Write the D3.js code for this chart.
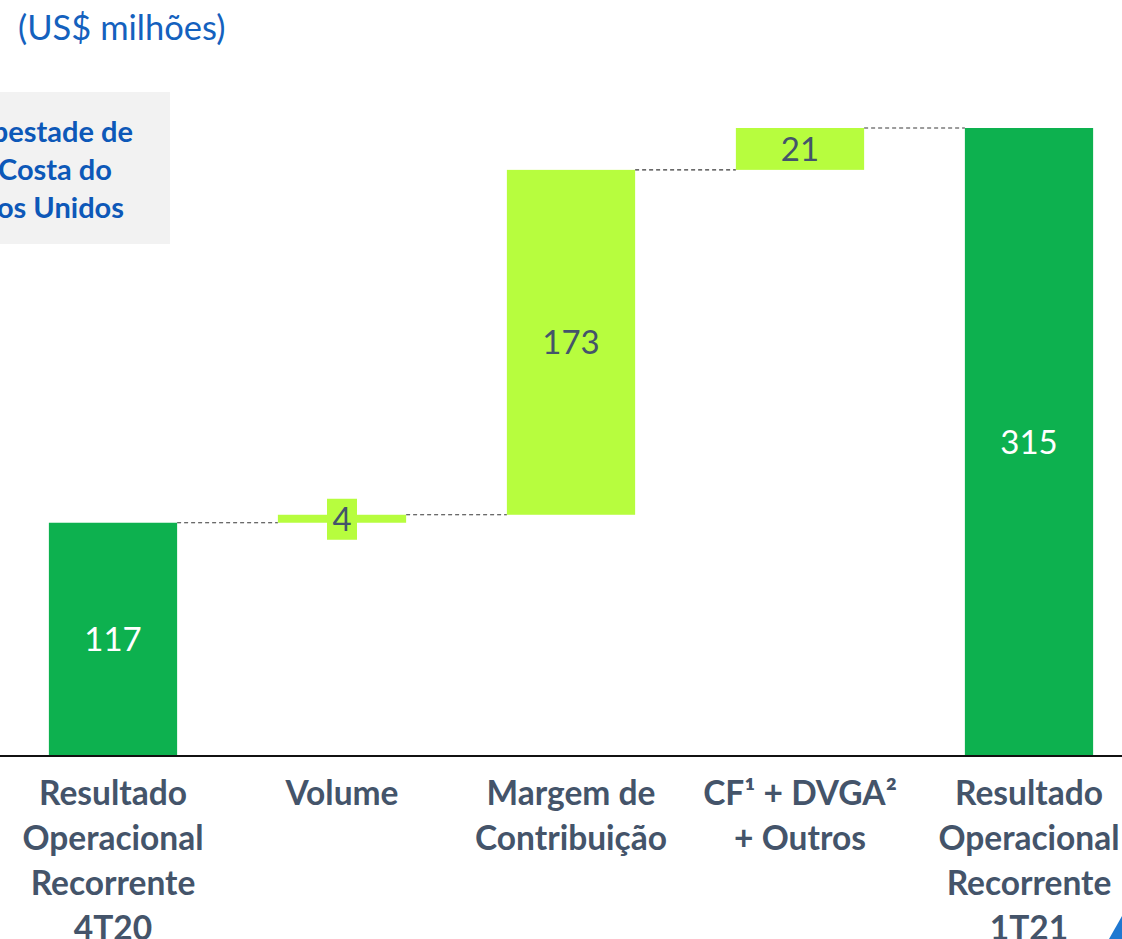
<!DOCTYPE html>
<html>
<head>
<meta charset="utf-8">
<script src="https://cdn.jsdelivr.net/npm/d3@7"></script>
<style>
  body { margin: 0; background: #fff; }
  svg { display: block; }
</style>
</head>
<body>
<svg width="1122" height="939"></svg>
<script>
// waterfall data
var categories = ["Resultado Operacional Recorrente 4T20", "Volume", "Margem de Contribuição", "CF¹ + DVGA² + Outros", "Resultado Operacional Recorrente 1T21"];
var catLines = [
    ["Resultado", "Operacional", "Recorrente", "4T20"],
    ["Volume"],
    ["Margem de", "Contribuição"],
    ["CF¹ + DVGA²", "+ Outros"],
    ["Resultado", "Operacional", "Recorrente", "1T21"]
];
var values = [117, 4, 173, 21, 315];
var kinds = ["total", "delta", "delta", "delta", "total"];
var boxLines = ["pestade de", "Costa do", "os Unidos"];

function main() {
    var svg = d3.select("svg");
    var dark = "#0db14f", light = "#b7fd3e", txt = "#44546a";

    // build start/end for each step
    var run = 0;
    var data = categories.map(function (c, i) {
        var d = { cat: c, lines: catLines[i], value: values[i], kind: kinds[i] };
        if (d.kind === "total") { d.y0 = 0; d.y1 = d.value; run = d.value; }
        else { d.y0 = run; d.y1 = run + d.value; run = d.y1; }
        return d;
    });

    var x = d3.scaleBand()
        .domain(categories)
        .range([-1.5, 1143.5])
        .paddingInner(0.44)
        .paddingOuter(0.22);
    var y = d3.scaleLinear()
        .domain([0, 315])
        .range([756, 128]);

    // title
    svg.append("text")
        .attr("x", 18).attr("y", 40)
        .attr("font-family", "Lato").attr("font-size", 34.5)
        .attr("fill", "#1461be")
        .text("(US$ milhões)");

    // grey note box
    svg.append("rect")
        .attr("x", 0).attr("y", 92).attr("width", 170).attr("height", 152)
        .attr("fill", "#f2f2f2");
    var boxRight = [133, 112, 124];
    svg.selectAll(".note").data(boxLines).enter().append("text")
        .attr("class", "note")
        .attr("x", function (d, i) { return boxRight[i]; })
        .attr("y", function (d, i) { return 142 + i * 38; })
        .attr("text-anchor", "end")
        .attr("font-family", "Lato").attr("font-weight", "bold").attr("font-size", 29)
        .attr("fill", "#0d58b8")
        .text(function (d) { return d; });

    // connectors
    for (var i = 0; i < data.length - 1; i++) {
        var lvl = data[i].y1;
        svg.append("line")
            .attr("x1", x(data[i].cat) + x.bandwidth())
            .attr("x2", x(data[i + 1].cat))
            .attr("y1", y(lvl)).attr("y2", y(lvl))
            .attr("stroke", "#3a3a3a").attr("stroke-width", 1.2)
            .attr("stroke-dasharray", "4,3");
    }

    // bars
    svg.selectAll(".bar").data(data).enter().append("rect")
        .attr("class", "bar")
        .attr("x", function (d) { return x(d.cat); })
        .attr("width", x.bandwidth())
        .attr("y", function (d) { return y(Math.max(d.y0, d.y1)); })
        .attr("height", function (d) { return Math.abs(y(d.y0) - y(d.y1)); })
        .attr("fill", function (d) { return d.kind === "total" ? dark : light; });

    // value labels, thin bar gets a backing box
    data.forEach(function (d) {
        var cx = x(d.cat) + x.bandwidth() / 2;
        var cy = (y(d.y0) + y(d.y1)) / 2;
        if (Math.abs(y(d.y0) - y(d.y1)) < 30) {
            svg.append("rect")
                .attr("x", cx - 15).attr("y", cy - 20)
                .attr("width", 30).attr("height", 41)
                .attr("fill", light);
        }
        svg.append("text")
            .attr("x", cx).attr("y", cy)
            .attr("dy", "0.36em")
            .attr("text-anchor", "middle")
            .attr("font-family", "Lato").attr("font-size", 33)
            .attr("fill", d.kind === "total" ? "#fff" : txt)
            .text(d.value);
    });

    // axis
    var axis = svg.append("g")
        .attr("transform", "translate(0," + y(0) + ")")
        .call(d3.axisBottom(x).tickSize(0).tickFormat(""));
    axis.select(".domain").attr("d", "M0,0H1122").attr("stroke", "#111").attr("stroke-width", 2);

    // category labels
    data.forEach(function (d) {
        var cx = x(d.cat) + x.bandwidth() / 2;
        var t = svg.append("text")
            .attr("text-anchor", "middle")
            .attr("font-family", "Lato").attr("font-weight", "bold").attr("font-size", 33.5)
            .attr("fill", txt);
        d.lines.forEach(function (l, j) {
            t.append("tspan").attr("x", cx).attr("y", 805 + j * 45).text(l);
        });
    });

    // corner logo fragment
    svg.append("path")
        .attr("d", "M1109,939L1122,916L1122,939Z")
        .attr("fill", "#1f78d1");
}
main();
</script>
</body>
</html>
